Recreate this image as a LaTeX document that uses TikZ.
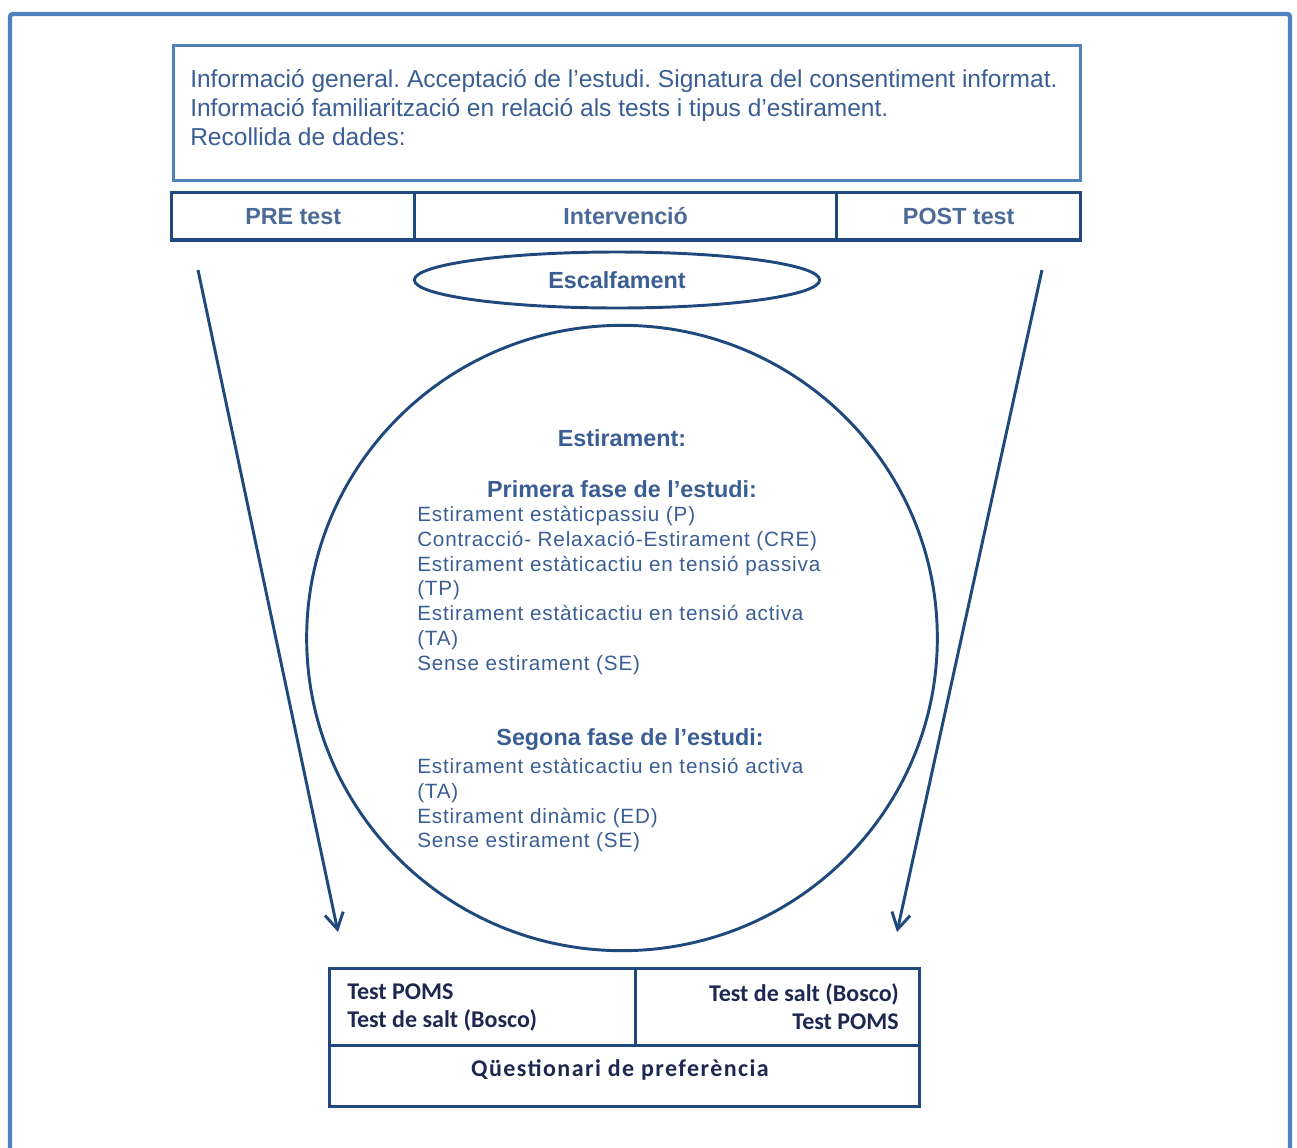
\documentclass[tikz,border=0pt]{standalone}
\usepackage{fontspec}
\setmainfont{Liberation Sans}
\newfontfamily\spaced[LetterSpace=4]{Liberation Sans}
\newfontfamily\calib{Carlito}
\newfontfamily\calibwide[LetterSpace=6]{Carlito}
\usetikzlibrary{shapes.geometric,arrows.meta}
\definecolor{frameblue}{RGB}{79,129,189}
\definecolor{navy}{RGB}{31,73,125}
\definecolor{textblue}{RGB}{58,94,148}
\definecolor{headblue}{RGB}{76,106,152}
\definecolor{darktext}{RGB}{28,40,80}
\frenchspacing
\tikzset{
  px/.style={x=0.75pt,y=-0.75pt},
  cell/.style={draw=navy,line width=2.6pt,minimum height=35.5pt,inner sep=0pt,
    font=\fontsize{17.5}{20}\selectfont\bfseries,text=headblue},
  oval/.style={ellipse,draw=navy,line width=2.2pt,inner sep=0pt},
  heading/.style={font=\fontsize{17.5}{20}\selectfont\bfseries,text=textblue},
  items/.style={font=\spaced\fontsize{15.5}{18.6}\selectfont,text=textblue,align=left,
    inner sep=0pt,anchor=north west},
  flow/.style={draw=navy,line width=2.2pt,-{Straight Barb[length=12pt,width=14pt,line width=2.2pt]}},
  btext/.style={font=\calib\fontsize{18}{21}\selectfont\bfseries,text=darktext,inner sep=0pt}
}
\begin{document}
\begin{tikzpicture}[px]
\useasboundingbox (0,0) rectangle (1297,1147);
% outer frame, open at the bottom
\begin{scope}
\clip (0,0) rectangle (1297,1147);
\draw[frameblue,line width=3.2pt,rounded corners=2pt] (10,1160) -- (10,14) -- (1290,14) -- (1290,1160);
\end{scope}
% general information box
\node[draw=frameblue,line width=2.2pt,minimum width=680pt,minimum height=101pt,inner sep=0pt,anchor=north west] (info) at (172,44) {};
\node[anchor=north west,inner sep=0pt,align=left,text=textblue,font=\fontsize{18.4}{21.9}\selectfont] (infotext) at (190,69)
  {Informació general. Acceptació de l’estudi. Signatura del consentiment informat.\\
   Informació familiarització en relació als tests i tipus d’estirament.\\
   Recollida de dades:};
% phases row
\node[cell,minimum width=182.25pt,anchor=north west] (pre) at (170,191) {PRE test};
\node[cell,minimum width=316.5pt,anchor=north west] (interv) at (413,191) {Intervenció};
\node[cell,minimum width=183pt,anchor=north west] (post) at (835,191) {POST test};
% warm-up
\node[oval,minimum width=304pt,minimum height=42pt,heading] (warm) at (617,280) {Escalfament};
% stretching circle
\node[oval,minimum width=473pt,minimum height=469pt] (circ) at (622,638) {};
\node[heading] (estir) at (622,438) {Estirament:};
\node[heading] (fase1) at (622,489) {Primera fase de l’estudi:};
\node[items] (list1) at (417,506) {Estirament estàticpassiu (P)\\
  Contracció- Relaxació-Estirament (CRE)\\
  Estirament estàticactiu en tensió passiva\\
  (TP)\\
  Estirament estàticactiu en tensió activa\\
  (TA)\\
  Sense estirament (SE)};
\node[heading] (fase2) at (630,740) {Segona fase de l’estudi:};
\node[items] (list2) at (417,758) {Estirament estàticactiu en tensió activa\\
  (TA)\\
  Estirament dinàmic (ED)\\
  Sense estirament (SE)};
% arrows towards the final tests
\coordinate (preend) at (338,932);
\coordinate (postend) at (897,932);
\coordinate (prestart) at (198,270);
\coordinate (poststart) at (1042,270);
\draw[flow] (prestart) -- (preend);
\draw[flow] (poststart) -- (postend);
% final tests
\node[draw=navy,line width=2.6pt,minimum width=229.5pt,minimum height=57.75pt,anchor=north west,inner sep=0pt] (tl) at (328,967) {};
\node[draw=navy,line width=2.6pt,minimum width=213pt,minimum height=57.75pt,anchor=north west,inner sep=0pt] (tr) at (634,967) {};
\node[draw=navy,line width=2.6pt,minimum width=442.5pt,minimum height=45.75pt,anchor=north west,inner sep=0pt] (quest) at (328,1044) {};
\node[btext,anchor=west,align=left] (tltext) at (347,1007) {Test POMS\\Test de salt (Bosco)};
\node[btext,anchor=east,align=right] (trtext) at (899,1007) {Test de salt (Bosco)\\Test POMS};
\node[btext,font=\calibwide\fontsize{18}{21}\selectfont\bfseries] (questtext) at (620,1070) {Qüestionari de preferència};
\end{tikzpicture}
\end{document}
